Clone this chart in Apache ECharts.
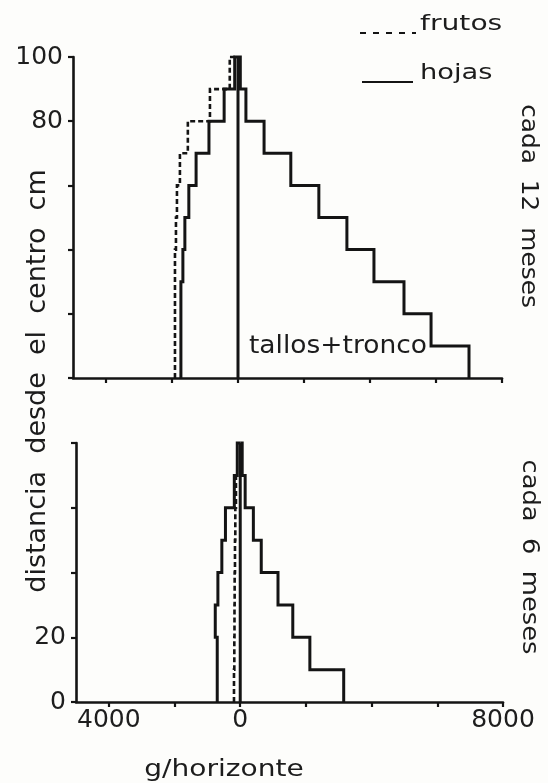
<!DOCTYPE html>
<html>
<head>
<meta charset="utf-8">
<title>Distribución de biomasa por horizonte</title>
<script src="https://cdn.jsdelivr.net/npm/echarts@6/dist/echarts.min.js"></script>
<style>
  html, body { margin: 0; padding: 0; background: #fdfdfb; }
  #chart { width: 548px; height: 783px; }
</style>
</head>
<body>
<div id="chart"></div>
<script>
// Horizons of 10 cm measured from the centre of the tree (bottom -> top)
const bandStep = 10;

// Every 12 months: g per horizon, horizons 0-10 ... 90-100 cm
const frutos12 = [1910, 1910, 1910, 1910, 1880, 1850, 1760, 1520, 850, 250];
const hojas12  = [1730, 1730, 1730, 1670, 1610, 1490, 1270, 880, 420, 100];
const tallos12 = [7000, 5850, 5030, 4120, 3300, 2450, 1600, 790, 240, 70];

// Every 6 months: g per horizon, horizons 0-10 ... 70-80 cm
const frutos6 = [190, 180, 175, 170, 160, 150, 130];
const hojas6  = [700, 700, 760, 680, 560, 450, 180, 90];
const tallos6 = [3150, 2120, 1600, 1150, 640, 400, 150, 60];

// Axis marks
const xTicks  = [-4000, -2000, 0, 2000, 4000, 6000, 8000];
const xLabels = [-4000, 0, 8000];
const yLabels12 = [80, 100];
const yLabels6  = [0, 20];

const INK = '#141414';
const FONT = 'DejaVu Sans';

// Outline of a stepped profile: left side (sign -1) or right side (sign +1)
function stepProfile(widths, sign) {
  const pts = [];
  widths.forEach(function (w, i) {
    pts.push([sign * w, i * bandStep]);
    pts.push([sign * w, (i + 1) * bandStep]);
  });
  pts.push([0, widths.length * bandStep]);
  return pts;
}

// Drawn as one polyline through the cartesian scales so that the
// small 1-2 px jogs between horizons are kept.
function profileSeries(widths, sign, gridIdx, dashed) {
  const pts = stepProfile(widths, sign);
  return {
    type: 'custom',
    coordinateSystem: 'cartesian2d',
    xAxisIndex: gridIdx,
    yAxisIndex: gridIdx,
    data: pts,
    encode: { x: 0, y: 1 },
    silent: true,
    clip: false,
    z: dashed ? 3 : 4,
    renderItem: function (params, api) {
      if (params.dataIndex !== 0) return null;
      const px = pts.map(function (p) { return api.coord(p); });
      return {
        type: 'polyline',
        shape: { points: px },
        style: {
          fill: 'none',
          stroke: INK,
          lineWidth: dashed ? 2.6 : 3,
          lineDash: dashed ? [5, 3] : null,
          lineJoin: 'miter'
        }
      };
    }
  };
}

function centreSeries(gridIdx, top) {
  return {
    type: 'line',
    xAxisIndex: gridIdx,
    yAxisIndex: gridIdx,
    data: [[0, 0], [0, top]],
    symbol: 'none',
    silent: true,
    lineStyle: { color: INK, width: 3 },
    z: 5
  };
}

const axisLineStyle = { color: INK, width: 2.6 };
const tickStyle = { length: 5, lineStyle: { color: INK, width: 2.2 } };

function xAxisDef(gridIdx, withLabels) {
  return {
    gridIndex: gridIdx,
    type: 'value',
    min: -5000,
    max: 8000,
    axisLine: { onZero: false, lineStyle: axisLineStyle },
    axisTick: Object.assign({ customValues: xTicks }, tickStyle),
    splitLine: { show: false },
    axisLabel: withLabels ? {
      customValues: xLabels,
      margin: 6,
      color: '#1e1e1e',
      fontFamily: FONT,
      fontSize: 25,
      formatter: function (v) { return String(Math.abs(v)); }
    } : { show: false }
  };
}

function yAxisDef(gridIdx, max, labels) {
  return {
    gridIndex: gridIdx,
    type: 'value',
    min: 0,
    max: max,
    interval: 20,
    axisLine: { onZero: false, lineStyle: axisLineStyle },
    axisTick: tickStyle,
    splitLine: { show: false },
    axisLabel: {
      customValues: labels,
      margin: 10,
      color: '#1e1e1e',
      fontFamily: FONT,
      fontSize: 25
    }
  };
}

function label(text, x, y, opts) {
  opts = opts || {};
  return {
    type: 'text',
    x: x,
    y: y,
    rotation: opts.rotation || 0,
    scaleX: opts.scaleX || 1,
    scaleY: opts.scaleY || 1,
    silent: true,
    style: {
      text: text,
      fill: '#1c1c1c',
      fontFamily: FONT,
      fontSize: opts.size || 23,
      align: opts.align || 'center',
      textAlign: opts.align || 'center',
      verticalAlign: 'middle',
      textVerticalAlign: 'middle'
    }
  };
}

const chart = echarts.init(document.getElementById('chart'), null, { renderer: 'canvas' });

chart.setOption({
  animation: false,
  backgroundColor: '#fdfdfb',
  grid: [
    { left: 73, right: 46, top: 57, height: 321 },
    { left: 76, right: 45, top: 443, height: 259 }
  ],
  xAxis: [xAxisDef(0, false), xAxisDef(1, true)],
  yAxis: [yAxisDef(0, 100, yLabels12), yAxisDef(1, 80, yLabels6)],
  series: [
    profileSeries(frutos12, -1, 0, true),
    profileSeries(hojas12, -1, 0, false),
    profileSeries(tallos12, 1, 0, false),
    centreSeries(0, 100),
    profileSeries(frutos6, -1, 1, true),
    profileSeries(hojas6, -1, 1, false),
    profileSeries(tallos6, 1, 1, false),
    centreSeries(1, 80)
  ],
  graphic: [
    // key
    {
      type: 'line', silent: true,
      shape: { x1: 360, y1: 33, x2: 416, y2: 33 },
      style: { stroke: INK, lineWidth: 2, lineDash: [6, 7] }
    },
    label('frutos', 420, 24, { align: 'left', size: 22, scaleX: 1.28 }),
    {
      type: 'line', silent: true,
      shape: { x1: 362, y1: 82, x2: 413, y2: 82 },
      style: { stroke: INK, lineWidth: 2 }
    },
    label('hojas', 420, 73, { align: 'left', size: 22, scaleX: 1.24 }),

    label('tallos+tronco', 338, 346, { size: 25, scaleX: 1.06 }),

    label('distancia  desde  el  centro  cm', 38, 381, { rotation: Math.PI / 2, size: 27, scaleX: 1.0 }),
    label('cada  12  meses', 528, 206, { rotation: -Math.PI / 2, size: 23, scaleX: 1.08 }),
    label('cada  6  meses', 529, 557, { rotation: -Math.PI / 2, size: 23, scaleX: 1.12 }),

    label('g/horizonte', 224, 770, { size: 23, scaleX: 1.22 })
  ]
});
</script>
</body>
</html>
